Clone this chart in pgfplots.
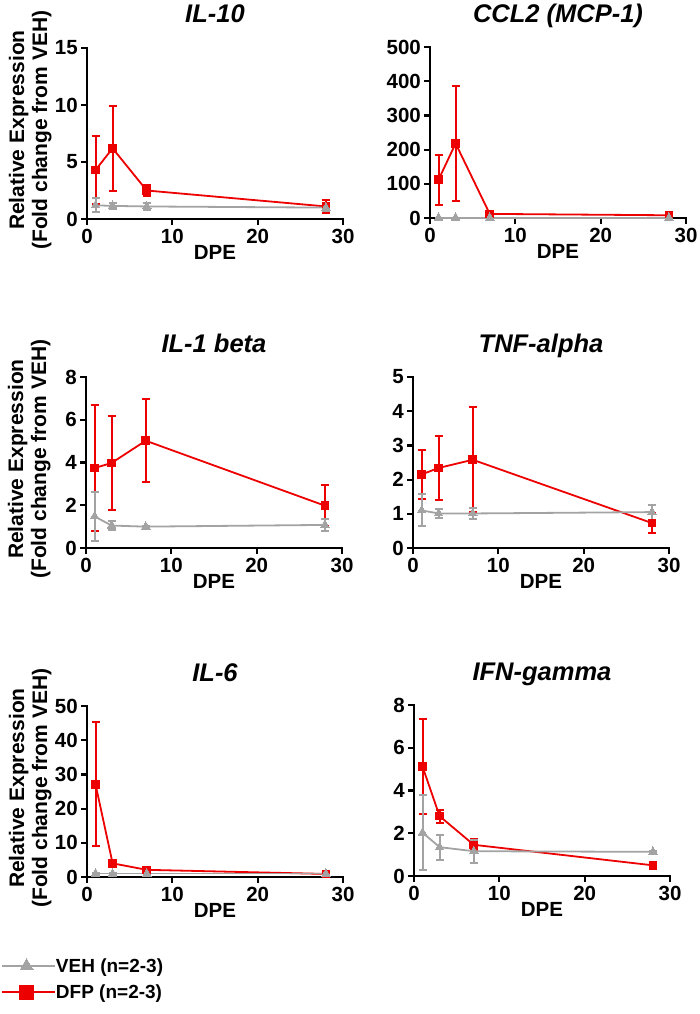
\documentclass[border=0pt]{standalone}
\usepackage{fontspec}
\setmainfont{Liberation Sans}
\usepackage{pgfplots}
\pgfplotsset{compat=1.18}
\definecolor{dfp}{RGB}{237,0,0}
\definecolor{veh}{RGB}{163,163,163}
\pgfplotsset{
  panel/.style={
    scale only axis, width=256pt, height=171pt,
    axis lines*=left, xmin=0, xmax=30, ymin=0,
    xtick={0,10,20,30},
    tick align=outside, major tick length=6pt,
    axis line style={line width=2.2pt, line cap=rect, black},
    every tick/.style={line width=2.2pt, black},
    clip=false,
    /pgf/number format/assume math mode=true,
    tick label style={font=\fontsize{20.5}{20.5}\selectfont\bfseries, inner sep=0pt},
    yticklabel style={xshift=-3pt},
    xticklabel style={yshift=-4pt},
    xlabel={DPE},
    xlabel style={at={(axis description cs:0.5,0)}, anchor=north, yshift=-26pt, inner sep=0pt,
      font=\fontsize{20.5}{20.5}\selectfont\bfseries},
    title style={at={(axis description cs:0.5,1)}, anchor=base, yshift=19pt, inner sep=0pt,
      font=\fontsize{25.5}{25.5}\selectfont\bfseries\itshape},
  },
  ylab/.style={
    ylabel={Relative Expression\\(Fold change from VEH)},
    ylabel style={at={(axis description cs:-0.138,0.52)}, anchor=south, inner sep=0pt,
      align=center, font=\fontsize{21}{23}\selectfont\bfseries},
  },
  dfpst/.style={color=dfp, line width=1.8pt, mark=square*, mark size=3.8pt,
    mark options={solid, line width=0pt},
    /pgfplots/error bars/y dir=both, /pgfplots/error bars/y explicit,
    /pgfplots/error bars/error bar style={line width=2pt, dfp},
    /pgfplots/error bars/error mark options={rotate=90, line width=2pt, mark size=4pt, dfp}},
  vehst/.style={color=veh, line width=1.8pt, mark=triangle*, mark size=5pt,
    mark options={solid, line width=0pt},
    /pgfplots/error bars/y dir=both, /pgfplots/error bars/y explicit,
    /pgfplots/error bars/error bar style={line width=2pt, veh},
    /pgfplots/error bars/error mark options={rotate=90, line width=2pt, mark size=4pt, veh}},
}
\begin{document}
\begin{tikzpicture}
\useasboundingbox (0,0) rectangle (700pt,-1014pt);

% ---------- IL-10 ----------
\begin{axis}[panel, ylab, at={(87pt,-219pt)}, anchor=south west,
  ymax=15, ytick={0,5,10,15}, title={IL-10}]
\addplot+[dfpst] table[x=x,y=y,y error=e] {
x y e
1 4.3 3.0
3 6.2 3.7
7 2.5 0.5
28 1.1 0.55
};
\addplot+[vehst] table[x=x,y=y,y error=e] {
x y e
1 1.2 0.6
3 1.15 0.25
7 1.1 0.3
28 1.0 0.3
};
\end{axis}

% ---------- CCL2 ----------
\begin{axis}[panel, at={(430pt,-218pt)}, anchor=south west,
  ymax=500, ytick={0,100,200,300,400,500}, title={CCL2 (MCP-1)}]
\addplot+[dfpst] table[x=x,y=y,y error=e] {
x y e
1 112 73
3 218 168
7 12 4
28 8 3
};
\addplot+[vehst] table[x=x,y=y,y error=e] {
x y e
1 1.0 0.3
3 1.0 0.2
7 1.0 0.2
28 1.0 0.2
};
\end{axis}

% ---------- IL-1 beta ----------
\begin{axis}[panel, ylab, at={(86pt,-548pt)}, anchor=south west,
  ymax=8, ytick={0,2,4,6,8}, title={IL-1 beta}]
\addplot+[dfpst] table[x=x,y=y,y error=e] {
x y e
1 3.74 2.95
3 3.98 2.2
7 5.02 1.95
28 1.98 0.95
};
\addplot+[vehst] table[x=x,y=y,y error=e] {
x y e
1 1.48 1.15
3 1.05 0.2
7 1.0 0.03
28 1.08 0.28
};
\end{axis}

% ---------- TNF-alpha ----------
\begin{axis}[panel, at={(413pt,-548pt)}, anchor=south west,
  ymax=5, ytick={0,1,2,3,4,5}, title={TNF-alpha}]
\addplot+[dfpst] table[x=x,y=y,y error=e] {
x y e
1 2.15 0.73
3 2.34 0.94
7 2.58 1.54
28 0.73 0.28
};
\addplot+[vehst] table[x=x,y=y,y error=e] {
x y e
1 1.10 0.47
3 1.01 0.12
7 1.01 0.15
28 1.05 0.22
};
\end{axis}

% ---------- IL-6 ----------
\begin{axis}[panel, ylab, at={(87pt,-877pt)}, anchor=south west,
  ymax=50, ytick={0,10,20,30,40,50}, title={IL-6},
  legend style={at={(axis description cs:-0.336,-0.475)}, anchor=north west,
    draw=none, fill=none, inner sep=0pt, row sep=11pt, column sep=0pt,
    nodes={inner sep=0pt},
    font=\fontsize{19}{19}\selectfont\bfseries, cells={anchor=west}},
  legend image code/.code={\draw[mark repeat=2,mark phase=2]
    plot coordinates {(0pt,0pt) (24.5pt,0pt) (49pt,0pt)};\path (49pt,0pt) -- (53pt,0pt);}]
\addlegendimage{color=veh, line width=1.8pt, mark=triangle*, mark size=7.5pt, mark options={solid, line width=0pt}}
\addlegendentry{VEH (n=2-3)}
\addlegendimage{color=dfp, line width=1.8pt, mark=square*, mark size=7pt, mark options={solid, line width=0pt}}
\addlegendentry{DFP (n=2-3)}
\addplot+[forget plot, dfpst] table[x=x,y=y,y error=e] {
x y e
1 27.1 18.1
3 4.0 0.6
7 2.1 0.4
28 0.9 0.2
};
\addplot+[forget plot, vehst] table[x=x,y=y,y error=e] {
x y e
1 1.0 0.3
3 1.0 0.2
7 1.0 0.2
28 1.0 0.2
};
\end{axis}

% ---------- IFN-gamma ----------
\begin{axis}[panel, at={(414pt,-876pt)}, anchor=south west,
  ymax=8, ytick={0,2,4,6,8}, title={IFN-gamma}]
\addplot+[dfpst] table[x=x,y=y,y error=e] {
x y e
1 5.12 2.24
3 2.8 0.3
7 1.46 0.25
28 0.5 0.05
};
\addplot+[vehst] table[x=x,y=y,y error=e] {
x y e
1 2.03 1.77
3 1.35 0.58
7 1.16 0.54
28 1.13 0.05
};
\end{axis}
\end{tikzpicture}
\end{document}
